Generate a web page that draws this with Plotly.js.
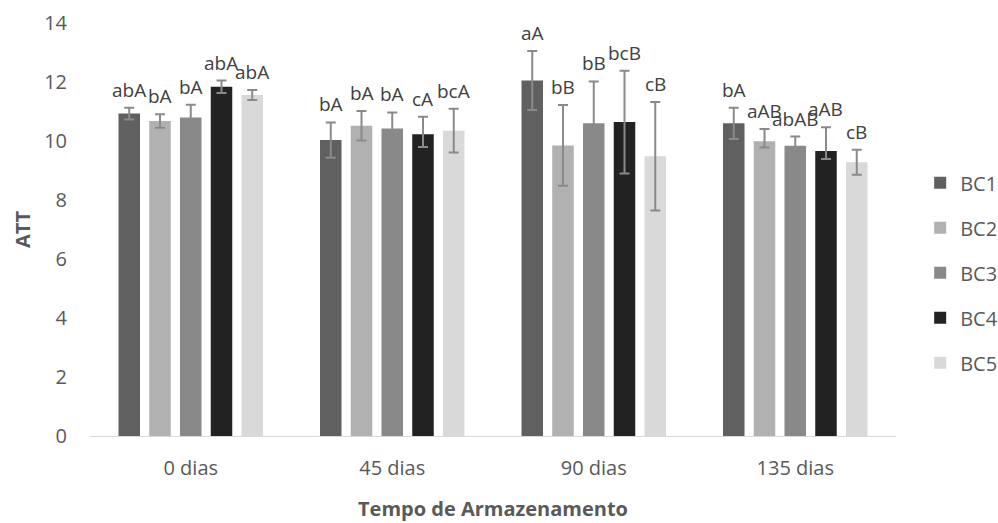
<!DOCTYPE html>
<html>
<head>
<meta charset="utf-8">
<script src="https://cdn.plot.ly/plotly-3.0.1.min.js"></script>
<style>html,body{margin:0;padding:0;background:#fff;}#chart{width:998px;height:523px;}</style>
</head>
<body>
<div id="chart"></div>
<script>
var categories = ["0 dias", "45 dias", "90 dias", "135 dias"];
var seriesNames = ["BC1", "BC2", "BC3", "BC4", "BC5"];

var bc1 = [10.93, 10.03, 12.05, 10.60];
var bc2 = [10.68, 10.52, 9.85, 9.99];
var bc3 = [10.80, 10.42, 10.60, 9.84];
var bc4 = [11.84, 10.23, 10.64, 9.66];
var bc5 = [11.56, 10.35, 9.48, 9.28];

// upper error extents
var errUp1 = [0.20, 0.60, 1.00, 0.53];
var errUp2 = [0.23, 0.50, 1.37, 0.42];
var errUp3 = [0.43, 0.55, 1.42, 0.31];
var errUp4 = [0.21, 0.59, 1.74, 0.81];
var errUp5 = [0.17, 0.74, 1.84, 0.42];
// lower error extents
var errDn1 = [0.20, 0.60, 1.00, 0.53];
var errDn2 = [0.23, 0.50, 1.37, 0.21];
var errDn3 = [0.43, 0.55, 1.42, 0.31];
var errDn4 = [0.21, 0.43, 1.74, 0.27];
var errDn5 = [0.17, 0.74, 1.84, 0.42];

var lab1 = ["abA", "bA", "aA", "bA"];
var lab2 = ["bA", "bA", "bB", "aAB"];
var lab3 = ["bA", "bA", "bB", "abAB"];
var lab4 = ["abA", "cA", "bcB", "aAB"];
var lab5 = ["abA", "bcA", "cB", "cB"];

var values = [bc1, bc2, bc3, bc4, bc5];
var errUp = [errUp1, errUp2, errUp3, errUp4, errUp5];
var errDn = [errDn1, errDn2, errDn3, errDn4, errDn5];
var labels = [lab1, lab2, lab3, lab4, lab5];
var colors = ["#606060", "#b1b1b1", "#898989", "#222222", "#d9d9d9"];

var FONT = "Open Sans, Noto Sans, sans-serif";
var margin = {l: 90, r: 102, t: 23, b: 87, autoexpand: false};
var bargap = 0.237, bargroupgap = 0.3;

var traces = seriesNames.map(function (name, i) {
  return {
    type: "bar",
    name: name,
    x: categories,
    y: values[i],
    legendgroup: name,
    marker: {color: colors[i]},
    error_y: {type: "data", symmetric: false, array: errUp[i], arrayminus: errDn[i], visible: true,
              color: "#8a8a8a", thickness: 2, width: 5},
    hoverinfo: "x+y+name"
  };
});

var plotW = 998 - margin.l - margin.r;
var catW = plotW / categories.length;
var slot = catW * (1 - bargap) / seriesNames.length;

var annotations = [];
seriesNames.forEach(function (name, i) {
  categories.forEach(function (c, j) {
    annotations.push({
      x: c, y: values[i][j] + errUp[i][j], xref: "x", yref: "y",
      text: labels[i][j], showarrow: false,
      xshift: (i - (seriesNames.length - 1) / 2) * slot,
      yanchor: "bottom", yshift: 3,
      font: {family: FONT, size: 19, color: "#404040"}
    });
  });
});

var layout = {
  width: 998, height: 523,
  margin: margin,
  paper_bgcolor: "#ffffff", plot_bgcolor: "#ffffff",
  barmode: "group", bargap: bargap, bargroupgap: bargroupgap,
  font: {family: FONT, size: 20, color: "#595959"},
  xaxis: {
    showgrid: false, zeroline: false, showline: true, linecolor: "#d9d9d9", linewidth: 1,
    ticks: "outside", ticklen: 14, tickcolor: "rgba(0,0,0,0)",
    tickfont: {family: FONT, size: 20, color: "#595959"},
    title: {text: "Tempo de Armazenamento", font: {family: FONT, size: 20, color: "#595959", weight: "bold"}, standoff: 21}
  },
  yaxis: {
    range: [0, 14], dtick: 2, showgrid: false, zeroline: false, showline: false,
    ticks: "outside", ticklen: 18, tickcolor: "rgba(0,0,0,0)",
    tickfont: {family: FONT, size: 20, color: "#595959"},
    title: {text: "ATT", font: {family: FONT, size: 20, color: "#595959", weight: "bold"}, standoff: 8}
  },
  legend: {
    x: 1.03, xanchor: "left", y: 0.395, yanchor: "middle",
    font: {family: FONT, size: 20, color: "#595959"},
    tracegroupgap: 16, bgcolor: "rgba(0,0,0,0)"
  },
  annotations: annotations,
  showlegend: true
};

Plotly.newPlot("chart", traces, layout, {displayModeBar: false, responsive: false});
</script>
</body>
</html>
